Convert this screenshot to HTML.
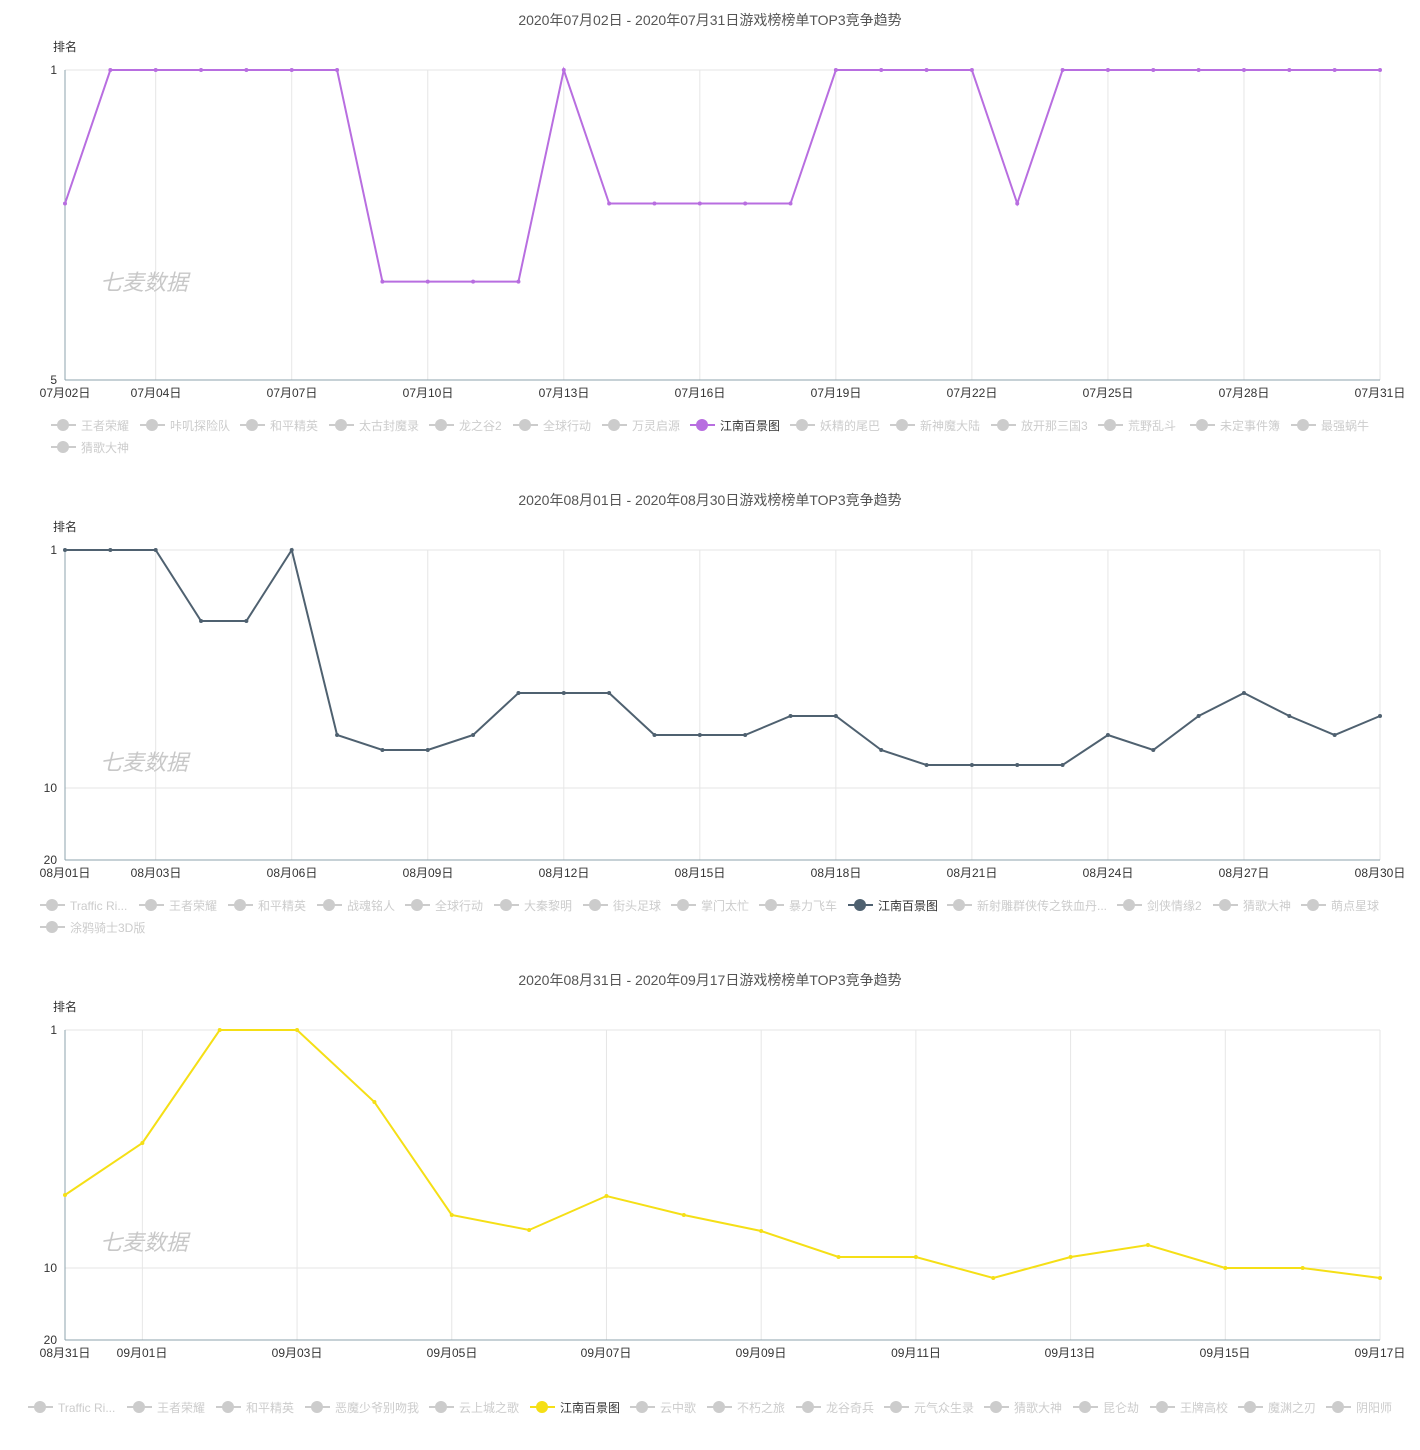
<!DOCTYPE html>
<html><head><meta charset="utf-8">
<style>
body{margin:0;background:#fff;}
svg{display:block;font-family:"Liberation Sans","Noto Sans CJK SC",sans-serif;}
.t{font-size:14px;fill:#555;text-anchor:middle}
.ax{font-size:12px;fill:#333}
.xl{font-size:12px;fill:#333;text-anchor:middle}
.yl{font-size:12px;fill:#333;text-anchor:end}
.lg{font-size:12px;fill:#ccc}
.lga{font-size:12px;fill:#333}
.wm{font-size:22px;fill:#c8c8c8;font-style:italic}
</style></head><body>
<svg id="s" width="1420" height="1450" viewBox="0 0 1420 1450">
<g id="grid"></g>
<!-- chart 1 -->
<text class="t" x="710" y="25">2020年07月02日 - 2020年07月31日游戏榜榜单TOP3竞争趋势</text>
<text class="ax" x="53" y="51">排名</text>
<text class="yl" x="57" y="74">1</text>
<text class="yl" x="57" y="384">5</text>
<text class="wm" x="100" y="290">七麦数据</text>
<g class="xl">
<text class="xl" x="65" y="397">07月02日</text><text class="xl" x="156" y="397">07月04日</text><text class="xl" x="292" y="397">07月07日</text><text class="xl" x="428" y="397">07月10日</text><text class="xl" x="564" y="397">07月13日</text><text class="xl" x="700" y="397">07月16日</text><text class="xl" x="836" y="397">07月19日</text><text class="xl" x="972" y="397">07月22日</text><text class="xl" x="1108" y="397">07月25日</text><text class="xl" x="1244" y="397">07月28日</text><text class="xl" x="1380" y="397">07月31日</text>
</g>
<g id="lg1">
<text class="lg" x="81" y="430">王者荣耀</text><text class="lg" x="170" y="430">咔叽探险队</text><text class="lg" x="270" y="430">和平精英</text><text class="lg" x="359" y="430">太古封魔录</text><text class="lg" x="459" y="430">龙之谷2</text><text class="lg" x="543" y="430">全球行动</text><text class="lg" x="632" y="430">万灵启源</text><text class="lga" x="720" y="430">江南百景图</text><text class="lg" x="820" y="430">妖精的尾巴</text><text class="lg" x="920" y="430">新神魔大陆</text><text class="lg" x="1021" y="430">放开那三国3</text><text class="lg" x="1128" y="430">荒野乱斗</text><text class="lg" x="1220" y="430">未定事件簿</text><text class="lg" x="1321" y="430">最强蜗牛</text><text class="lg" x="81" y="452">猜歌大神</text>
</g>
<!-- chart 2 -->
<text class="t" x="710" y="505">2020年08月01日 - 2020年08月30日游戏榜榜单TOP3竞争趋势</text>
<text class="ax" x="53" y="531">排名</text>
<text class="yl" x="57" y="554">1</text>
<text class="yl" x="57" y="792">10</text>
<text class="yl" x="57" y="864">20</text>
<text class="wm" x="100" y="770">七麦数据</text>
<text class="xl" x="65" y="877">08月01日</text><text class="xl" x="156" y="877">08月03日</text><text class="xl" x="292" y="877">08月06日</text><text class="xl" x="428" y="877">08月09日</text><text class="xl" x="564" y="877">08月12日</text><text class="xl" x="700" y="877">08月15日</text><text class="xl" x="836" y="877">08月18日</text><text class="xl" x="972" y="877">08月21日</text><text class="xl" x="1108" y="877">08月24日</text><text class="xl" x="1244" y="877">08月27日</text><text class="xl" x="1380" y="877">08月30日</text>
<g id="lg2">
<text class="lg" x="70" y="910">Traffic Ri...</text><text class="lg" x="169" y="910">王者荣耀</text><text class="lg" x="258" y="910">和平精英</text><text class="lg" x="347" y="910">战魂铭人</text><text class="lg" x="435" y="910">全球行动</text><text class="lg" x="524" y="910">大秦黎明</text><text class="lg" x="613" y="910">街头足球</text><text class="lg" x="701" y="910">掌门太忙</text><text class="lg" x="789" y="910">暴力飞车</text><text class="lga" x="878" y="910">江南百景图</text><text class="lg" x="977" y="910">新射雕群侠传之铁血丹...</text><text class="lg" x="1147" y="910">剑侠情缘2</text><text class="lg" x="1243" y="910">猜歌大神</text><text class="lg" x="1331" y="910">萌点星球</text><text class="lg" x="70" y="932">涂鸦骑士3D版</text>
</g>
<!-- chart 3 -->
<text class="t" x="710" y="985">2020年08月31日 - 2020年09月17日游戏榜榜单TOP3竞争趋势</text>
<text class="ax" x="53" y="1011">排名</text>
<text class="yl" x="57" y="1034">1</text>
<text class="yl" x="57" y="1272">10</text>
<text class="yl" x="57" y="1344">20</text>
<text class="wm" x="100" y="1250">七麦数据</text>
<text class="xl" x="65" y="1357">08月31日</text><text class="xl" x="142" y="1357">09月01日</text><text class="xl" x="297" y="1357">09月03日</text><text class="xl" x="452" y="1357">09月05日</text><text class="xl" x="606" y="1357">09月07日</text><text class="xl" x="761" y="1357">09月09日</text><text class="xl" x="916" y="1357">09月11日</text><text class="xl" x="1070" y="1357">09月13日</text><text class="xl" x="1225" y="1357">09月15日</text><text class="xl" x="1380" y="1357">09月17日</text>
<g id="lg3">
<text class="lg" x="58" y="1412">Traffic Ri...</text><text class="lg" x="157" y="1412">王者荣耀</text><text class="lg" x="246" y="1412">和平精英</text><text class="lg" x="335" y="1412">恶魔少爷别吻我</text><text class="lg" x="459" y="1412">云上城之歌</text><text class="lga" x="560" y="1412">江南百景图</text><text class="lg" x="660" y="1412">云中歌</text><text class="lg" x="737" y="1412">不朽之旅</text><text class="lg" x="826" y="1412">龙谷奇兵</text><text class="lg" x="914" y="1412">元气众生录</text><text class="lg" x="1014" y="1412">猜歌大神</text><text class="lg" x="1103" y="1412">昆仑劫</text><text class="lg" x="1180" y="1412">王牌高校</text><text class="lg" x="1268" y="1412">魔渊之刃</text><text class="lg" x="1356" y="1412">阴阳师</text>
</g>
<g id="dyn"></g>
</svg>
<script>
var NS="http://www.w3.org/2000/svg";
function el(p,n,a){var e=document.createElementNS(NS,n);for(var k in a)e.setAttribute(k,a[k]);p.insertBefore?p.appendChild(e):0;return e;}
var G=document.getElementById('grid'),D=document.getElementById('dyn');
function chart(top,bot,n,ticks,hy,ys,color){
  var x0=65,x1=1380,dx=(x1-x0)/(n-1);
  el(G,'line',{x1:x0,y1:top,x2:x1,y2:top,stroke:'#e6e6e6'});
  hy.forEach(function(y){el(G,'line',{x1:x0,y1:y,x2:x1,y2:y,stroke:'#e6e6e6'});});
  ticks.forEach(function(i){var x=x0+i*dx;el(G,'line',{x1:x,y1:top,x2:x,y2:bot,stroke:'#e6e6e6'});});
  el(G,'line',{x1:x0,y1:top,x2:x0,y2:bot,stroke:'#8ea3ad'});
  el(G,'line',{x1:x0,y1:bot,x2:x1,y2:bot,stroke:'#8ea3ad'});
  var pts=ys.map(function(y,i){return (x0+i*dx)+','+y;}).join(' ');
  el(D,'polyline',{points:pts,fill:'none',stroke:color,'stroke-width':2});
  ys.forEach(function(y,i){el(D,'circle',{cx:x0+i*dx,cy:y,r:2,fill:color});});
}
var r1=[2,1,1,1,1,1,1,3,3,3,3,1,2,2,2,2,2,1,1,1,1,2,1,1,1,1,1,1,1,1];
var y1=r1.map(function(r){return 70+310*Math.log(r)/Math.log(5);});
chart(70,380,30,[2,5,8,11,14,17,20,23,26,29],[],y1,'#b86ee0');
chart(550,860,30,[2,5,8,11,14,17,20,23,26,29],[788],[550,550,550,621,621,550,735,750,750,735,693,693,693,735,735,735,716,716,750,765,765,765,765,735,750,716,693,716,735,716],'#4f6170');
chart(1030,1340,18,[1,3,5,7,9,11,13,15,17],[1268],[1195,1143,1030,1030,1102,1215,1230,1196,1215,1231,1257,1257,1278,1257,1245,1268,1268,1278],'#f5df16');
function legend(id,act,col){
  var ts=document.getElementById(id).getElementsByTagName('text');
  for(var i=0;i<ts.length;i++){var x=+ts[i].getAttribute('x'),y=+ts[i].getAttribute('y')-5;
    var c=(i==act)?col:'#ccc';
    el(D,'line',{x1:x-30,y1:y,x2:x-5,y2:y,stroke:c,'stroke-width':2});
    el(D,'circle',{cx:x-18,cy:y,r:6,fill:c});}
}
legend('lg1',7,'#b86ee0');legend('lg2',9,'#4f6170');legend('lg3',5,'#f5df16');
</script>
</body></html>
